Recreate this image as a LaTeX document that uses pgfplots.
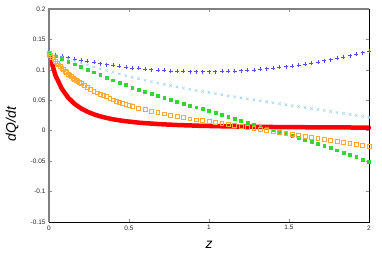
\documentclass[border=0pt]{standalone}
\usepackage{fontspec}
\setmainfont{Liberation Sans}
\usepackage{pgfplots}
\pgfplotsset{compat=1.18}
\usepackage{pgfplotstable}
\definecolor{bc}{HTML}{5050F2}
\definecolor{lbc}{HTML}{A5D6F2}
\definecolor{gc}{HTML}{33D633}
\definecolor{oc}{HTML}{FFAA33}
\definecolor{rc}{HTML}{FF0000}
\pgfplotstableread{
z b lb g r
0.00 0.1270 0.1270 0.1270 0.1270
0.04 0.1246 0.1238 0.1226 0.0912
0.08 0.1222 0.1206 0.1182 0.0690
0.12 0.1200 0.1174 0.1138 0.0543
0.16 0.1179 0.1142 0.1094 0.0441
0.20 0.1159 0.1110 0.1050 0.0367
0.24 0.1140 0.1078 0.1006 0.0312
0.28 0.1122 0.1046 0.0962 0.0269
0.32 0.1104 0.1016 0.0918 0.0236
0.36 0.1088 0.0988 0.0874 0.0210
0.40 0.1073 0.0960 0.0830 0.0188
0.44 0.1059 0.0932 0.0790 0.0171
0.48 0.1046 0.0904 0.0750 0.0156
0.52 0.1034 0.0878 0.0712 0.0144
0.56 0.1023 0.0854 0.0676 0.0133
0.60 0.1013 0.0830 0.0640 0.0124
0.64 0.1004 0.0806 0.0608 0.0117
0.68 0.0996 0.0782 0.0576 0.0110
0.72 0.0990 0.0760 0.0544 0.0104
0.76 0.0984 0.0740 0.0512 0.0099
0.80 0.0979 0.0720 0.0480 0.0094
0.84 0.0975 0.0700 0.0448 0.0090
0.88 0.0972 0.0680 0.0416 0.0087
0.92 0.0970 0.0662 0.0386 0.0083
0.96 0.0970 0.0646 0.0358 0.0080
1.00 0.0970 0.0630 0.0330 0.0078
1.04 0.0971 0.0610 0.0298 0.0075
1.08 0.0974 0.0590 0.0266 0.0073
1.12 0.0977 0.0572 0.0234 0.0071
1.16 0.0981 0.0556 0.0202 0.0070
1.20 0.0987 0.0540 0.0170 0.0068
1.24 0.0993 0.0524 0.0138 0.0066
1.28 0.1001 0.0508 0.0106 0.0065
1.32 0.1009 0.0492 0.0074 0.0064
1.36 0.1019 0.0476 0.0042 0.0063
1.40 0.1029 0.0460 0.0010 0.0061
1.44 0.1041 0.0444 -0.0022 0.0060
1.48 0.1053 0.0428 -0.0054 0.0059
1.52 0.1067 0.0412 -0.0086 0.0059
1.56 0.1082 0.0396 -0.0118 0.0058
1.60 0.1097 0.0380 -0.0150 0.0057
1.64 0.1114 0.0364 -0.0182 0.0056
1.68 0.1132 0.0348 -0.0214 0.0056
1.72 0.1150 0.0332 -0.0248 0.0055
1.76 0.1170 0.0316 -0.0284 0.0054
1.80 0.1191 0.0300 -0.0320 0.0054
1.84 0.1213 0.0284 -0.0356 0.0053
1.88 0.1235 0.0268 -0.0392 0.0053
1.92 0.1259 0.0252 -0.0430 0.0052
1.96 0.1284 0.0236 -0.0470 0.0052
2.00 0.1310 0.0220 -0.0510 0.0051
}\data
\pgfplotstableread{
z o
0.00 0.1270
0.01 0.1236
0.02 0.1203
0.03 0.1171
0.04 0.1140
0.05 0.1112
0.06 0.1084
0.07 0.1057
0.08 0.1030
0.09 0.1005
0.10 0.0980
0.11 0.0955
0.12 0.0930
0.13 0.0909
0.14 0.0888
0.15 0.0868
0.16 0.0850
0.17 0.0832
0.18 0.0815
0.19 0.0797
0.20 0.0780
0.22 0.0745
0.24 0.0710
0.26 0.0680
0.28 0.0650
0.30 0.0625
0.32 0.0600
0.34 0.0580
0.36 0.0560
0.38 0.0535
0.40 0.0510
0.42 0.0490
0.44 0.0472
0.46 0.0454
0.48 0.0437
0.50 0.0421
0.52 0.0405
0.56 0.0375
0.60 0.0350
0.64 0.0325
0.68 0.0300
0.72 0.0278
0.76 0.0255
0.80 0.0235
0.84 0.0215
0.88 0.0197
0.92 0.0180
0.96 0.0165
1.00 0.0150
1.04 0.0135
1.08 0.0120
1.12 0.0105
1.16 0.0090
1.20 0.0075
1.24 0.0060
1.28 0.0045
1.32 0.0028
1.36 0.0011
1.40 -0.0006
1.44 -0.0023
1.48 -0.0040
1.52 -0.0057
1.56 -0.0074
1.60 -0.0091
1.64 -0.0108
1.68 -0.0125
1.72 -0.0142
1.76 -0.0159
1.80 -0.0176
1.84 -0.0193
1.88 -0.0210
1.92 -0.0225
1.96 -0.0240
2.00 -0.0255
}\odata
\begin{document}
\begin{tikzpicture}
\begin{axis}[
  scale only axis, width=320bp, height=213bp,
  xmin=0, xmax=2, ymin=-0.15, ymax=0.2,
  xtick={0,0.5,1,1.5,2},
  ytick={-0.15,-0.1,-0.05,0,0.05,0.1,0.15,0.2},
  axis line style={draw=none},
  tick align=inside,
  major tick length=3bp,
  tick style={black!45, line width=0.5bp},
  ticklabel style={font=\fontsize{6.5}{7}\selectfont, text=black!85},
  /pgf/number format/assume math mode=true,
  /pgf/number format/fixed,
  /pgf/number format/precision=2,
  xlabel={\itshape z},
  ylabel={\itshape dQ/dt},
  label style={font=\fontsize{14}{16}\selectfont},
  xlabel style={at={(axis description cs:0.5,-0.108)}, anchor=center},
  ylabel style={at={(axis description cs:-0.115,0.46)}, anchor=center},
  clip=false,
]
\addplot[only marks, mark=+, mark size=2bp, color=bc, mark options={line width=0.5bp}] table[x=z, y=b] {\data};
\addplot[only marks, mark=x, mark size=1.8bp, color=lbc, mark options={line width=0.6bp}] table[x=z, y=lb] {\data};
\addplot[only marks, mark=square*, mark size=1.4bp, color=gc, mark options={line width=0.4bp}] table[x=z, y=g] {\data};
\addplot[only marks, mark=square, mark size=1.9bp, color=oc, mark options={line width=0.55bp}] table[x=z, y=o] {\odata};
\addplot[rc, line width=4.5bp, line cap=round, line join=round] table[x=z, y=r] {\data};
\draw[black!50, line width=1.5bp] (rel axis cs:0,0) -- (rel axis cs:0,1) -- (rel axis cs:1,1);
\draw[black, line width=0.9bp] (rel axis cs:0,0) -- (rel axis cs:1,0) -- (rel axis cs:1,1);
\end{axis}
\pgfresetboundingbox
\path ([shift={(-49bp,-45bp)}]current axis.south west) rectangle ([shift={(13bp,9bp)}]current axis.north east);
\end{tikzpicture}
\end{document}
